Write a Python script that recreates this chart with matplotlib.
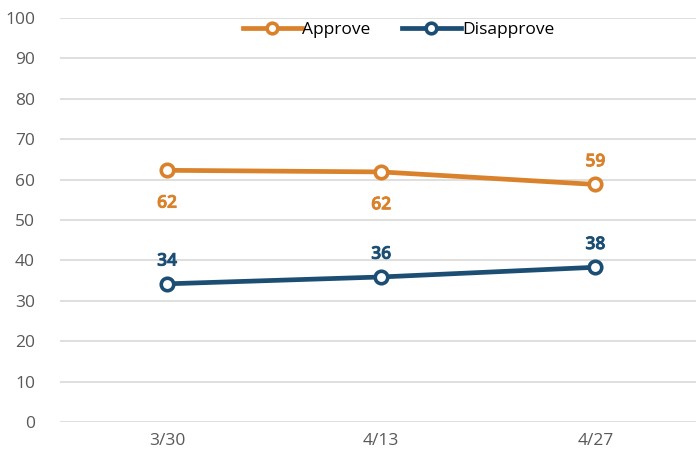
import matplotlib.pyplot as plt
import matplotlib.patheffects as pe

plt.rcParams['font.family'] = ['Open Sans', 'DejaVu Sans']

# data
dates = ['3/30', '4/13', '4/27']
approve = [62.3, 61.9, 58.8]
disapprove = [34.2, 35.9, 38.3]
approve_labels = ['62', '62', '59']
disapprove_labels = ['34', '36', '38']

orange = '#d9822b'
blue = '#1c4e74'

fig = plt.figure(figsize=(6.96, 4.62), dpi=100)
ax = fig.add_axes([60 / 696, 40 / 462, 636 / 696, 404 / 462])

x = list(range(len(dates)))
ax.plot(x, approve, color=orange, lw=3.4, marker='o', ms=9, mfc='white',
        mec=orange, mew=2.6, label='Approve', zorder=3)
ax.plot(x, disapprove, color=blue, lw=3.4, marker='o', ms=9, mfc='white',
        mec=blue, mew=2.6, label='Disapprove', zorder=3)

# point labels: first two approve labels sit below the line
# semibold + a thin stroke, since the bold face here is a condensed one
def label(t, i, v, off, c):
    ax.annotate(t, (i, v), xytext=(0, off), textcoords='offset points',
                ha='center', va='center', color=c, family='Open Sans',
                fontsize=12.5, fontweight=600,
                path_effects=[pe.withStroke(linewidth=0.6, foreground=c)])

for i, (v, t) in enumerate(zip(approve, approve_labels)):
    label(t, i, v, -24 if i < 2 else 16, orange)
for i, (v, t) in enumerate(zip(disapprove, disapprove_labels)):
    label(t, i, v, 16, blue)

ax.set_xlim(-0.5, 2.47)
ax.set_ylim(0, 100)
ax.set_yticks(range(0, 101, 10))
ax.set_xticks(x)
ax.set_xticklabels(dates)
ax.grid(axis='y', color='#d9d9d9', lw=1.2)
ax.set_axisbelow(True)
for s in ax.spines.values():
    s.set_visible(False)
ax.tick_params(length=0, labelsize=12.5, labelcolor='#595959')
ax.tick_params(axis='y', pad=18)
ax.tick_params(axis='x', pad=8)

ax.legend(loc='upper center', bbox_to_anchor=(0.532, 1.03), ncol=2, frameon=False,
          fontsize=12.5, handlelength=3.4, handletextpad=0.05, columnspacing=1.8,
          markerscale=0.85)

fig.savefig('out.png', dpi=100)
